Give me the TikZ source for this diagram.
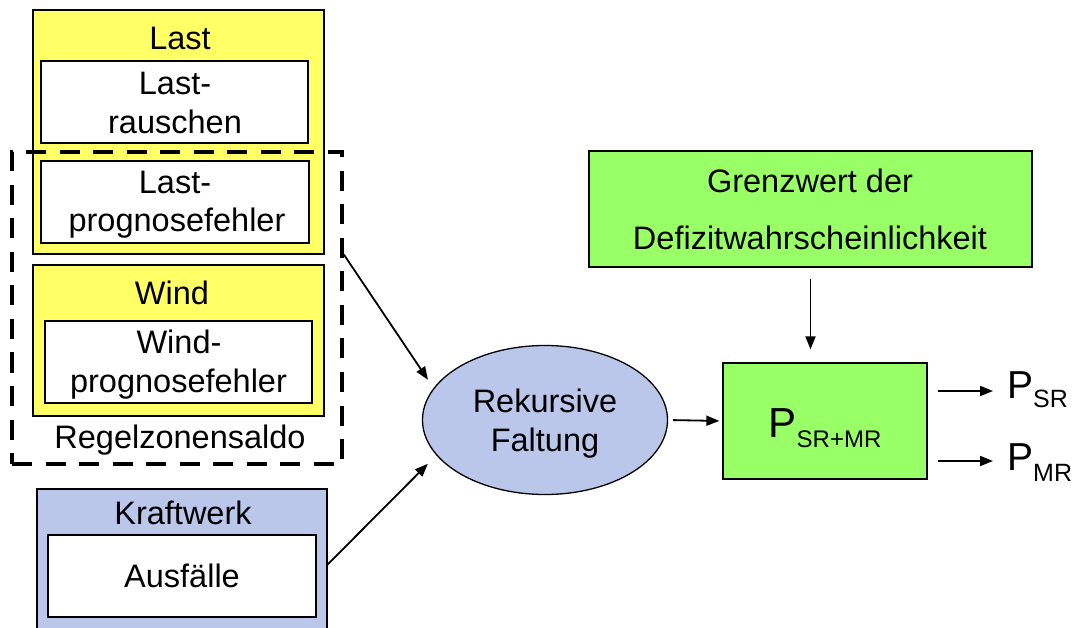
\documentclass[tikz,border=0pt]{standalone}
\usepackage{fontspec}
\setmainfont{Liberation Sans}
\usetikzlibrary{arrows.meta,calc,shapes.geometric}
\definecolor{lastyellow}{RGB}{255,255,102}
\definecolor{limegreen}{RGB}{153,255,102}
\definecolor{paleblue}{RGB}{186,199,234}

\begin{document}
\begin{tikzpicture}[x=1pt,y=-1pt,
  box/.style={draw=black,line width=1.3pt,rectangle,inner sep=0pt},
  outerbox/.style={box,fill=#1},
  innerbox/.style={box,fill=white,minimum width=267pt,minimum height=82pt},
  txt/.style={inner sep=0pt,anchor=base,font=\fontsize{32.5}{39}\selectfont},
  arr/.style={line width=1.8pt,-{Triangle[length=13pt,width=10pt]}}]

\useasboundingbox (0,0) rectangle (1082,628);

% --- Last ---
\node[outerbox=lastyellow,minimum width=291pt,minimum height=244pt] (last) at (178.5,132) {};
\node[innerbox] (lastr) at (174.5,102) {};
\node[innerbox,minimum width=268pt] (lastp) at (175,202) {};
\node[txt] (tlast) at (180,50) {Last};
\node[txt] (tlr1) at (175,95) {Last-};
\node[txt] (tlr2) at (175,134) {rauschen};
\node[txt] (tlp1) at (175,194) {Last-};
\node[txt] (tlp2) at (177,232) {prognosefehler};

% --- Wind ---
\node[outerbox=lastyellow,minimum width=291pt,minimum height=151pt] (wind) at (178.5,340.5) {};
\node[innerbox] (windp) at (178.5,362) {};
\node[txt] (twind) at (172,305) {Wind};
\node[txt] (twp1) at (179,354) {Wind-};
\node[txt] (twp2) at (178.5,392) {prognosefehler};

% --- Regelzonensaldo (dashed frame) ---
\node[draw=black,line width=3.5pt,dash pattern=on 20pt off 13.5pt,
      minimum width=330pt,minimum height=312pt,inner sep=0pt] (rz) at (177,308) {};
\node[txt] (trz) at (180,448) {Regelzonensaldo};

% --- Kraftwerk ---
\node[outerbox=paleblue,minimum width=290pt,minimum height=151pt] (kw) at (182,564.5) {};
\node[innerbox,minimum width=268pt] (ausf) at (182,576) {};
\node[txt] (tkw) at (183,524) {Kraftwerk};
\node[txt] (tausf) at (182,587) {Ausfälle};

% --- Rekursive Faltung ---
\node[ellipse,draw=black,line width=1.3pt,fill=paleblue,inner sep=0pt,
      minimum width=245pt,minimum height=149pt] (rek) at (545,420) {};
\node[txt] (trek1) at (545,412) {Rekursive};
\node[txt] (trek2) at (545,451) {Faltung};

% --- Grenzwert ---
\node[outerbox=limegreen,minimum width=443pt,minimum height=116pt] (grenz) at (810.5,209) {};
\node[txt] (tg1) at (810,193) {Grenzwert der};
\node[txt] (tg2) at (810,250) {Defizitwahrscheinlichkeit};

% --- P_SR+MR ---
\node[outerbox=limegreen,minimum width=204pt,minimum height=116pt] (p) at (825,421) {};
\node[inner sep=0pt,anchor=base,font=\fontsize{42}{42}\selectfont] (tp) at (825,437)
  {P\raisebox{-10pt}{\fontsize{24}{24}\selectfont SR+MR}};

% --- outputs ---
\node[inner sep=0pt,anchor=base west,font=\fontsize{39}{39}\selectfont] (psr) at (1007,399)
  {P\raisebox{-9pt}{\fontsize{25}{25}\selectfont SR}};
\node[inner sep=0pt,anchor=base west,font=\fontsize{39}{39}\selectfont] (pmr) at (1007,470)
  {P\raisebox{-11pt}{\fontsize{25}{25}\selectfont MR}};

\coordinate (s1) at ($(rz.north east)!0.33!(rz.south east)$);
\coordinate (o1) at ($(p.east)+(10,-30)$);
\coordinate (o2) at ($(p.east)+(10,40)$);

% --- connectors ---
\draw[arr,shorten >=10pt] (s1) -- (rek.164);
\draw[arr,shorten >=12pt] (kw.east) -- (rek.198);
\draw[arr,shorten <=5pt,shorten >=3pt] (rek.east) -- (p.west);
\draw[arr,shorten <=11pt,shorten >=13pt] (grenz.south) -- (grenz.south |- p.north);
\draw[arr,shorten >=14pt] (o1) -- (o1 -| psr.west);
\draw[arr,shorten >=14pt] (o2) -- (o2 -| pmr.west);
\end{tikzpicture}
\end{document}
